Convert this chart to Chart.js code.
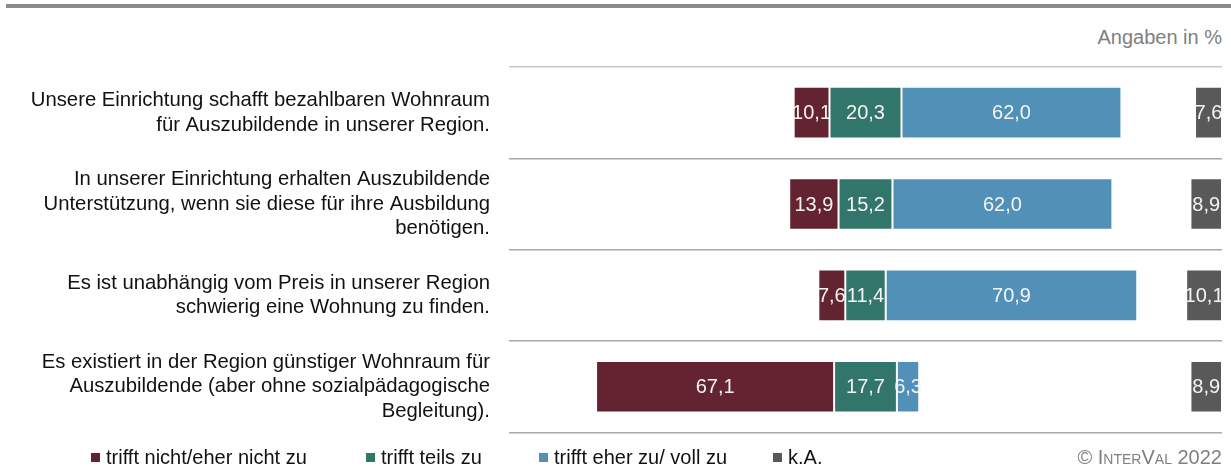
<!DOCTYPE html>
<html lang="de">
<head>
<meta charset="utf-8">
<script src="https://cdn.jsdelivr.net/npm/chart.js@4.4.1/dist/chart.umd.min.js"></script>
<style>
	html, body { margin: 0; padding: 0; background: #fff; }
	#wrap { position: relative; width: 1231px; height: 476px; overflow: hidden; font-family: "Liberation Sans", Arial, sans-serif; }
	#chart { position: absolute; left: 0; top: 0; }
	#topline { position: absolute; left: 6px; right: 0; top: 4px; height: 4px; background: #8c8c8c; }
	#unit { position: absolute; right: 9px; top: 25px; font-size: 20px; line-height: 24px; color: #7f7f7f; }
	#copy { position: absolute; right: 9px; top: 445px; font-size: 20px; line-height: 24px; color: #7f7f7f; font-variant: small-caps; }
	#legend { position: absolute; left: 91px; top: 445px; display: flex; font-size: 20px; line-height: 24px; color: #111; }
	#legend .item { display: flex; align-items: center; }
	#legend .box { width: 9px; height: 9px; margin-right: 6px; }
	#legend .item:nth-child(1) { width: 275px; }
	#legend .item:nth-child(2) { width: 173px; }
	#legend .item:nth-child(3) { width: 234px; }
</style>
</head>
<body>
<div id="wrap">
	<div id="topline"></div>
	<div id="unit">Angaben in %</div>
	<canvas id="chart" width="1231" height="476"></canvas>
	<div id="legend"></div>
	<div id="copy">© InterVal 2022</div>
</div>
<script>
const categories = [
	['Unsere Einrichtung schafft bezahlbaren Wohnraum', 'für Auszubildende in unserer Region.'],
	['In unserer Einrichtung erhalten Auszubildende', 'Unterstützung, wenn sie diese für ihre Ausbildung', 'benötigen.'],
	['Es ist unabhängig vom Preis in unserer Region', 'schwierig eine Wohnung zu finden.'],
	['Es existiert in der Region günstiger Wohnraum für', 'Auszubildende (aber ohne sozialpädagogische', 'Begleitung).'],
];
const trifftNicht = [10.1, 13.9, 7.6, 67.1];
const trifftTeils = [20.3, 15.2, 11.4, 17.7];
const trifftZu = [62.0, 62.0, 70.9, 6.3];
const keineAngabe = [7.6, 8.9, 10.1, 8.9];
const seriesNames = ['trifft nicht/eher nicht zu', 'trifft teils zu', 'trifft eher zu/ voll zu', 'k.A.'];
const colors = ['#632330', '#31756b', '#5291b7', '#595959'];

// diverging layout: "teils zu" centred on 0, k.A. pinned to the right edge
const AXIS_MAX = 100.5;
const rangeNicht = trifftNicht.map((v, i) => [-trifftTeils[i] / 2 - v, -trifftTeils[i] / 2]);
const rangeTeils = trifftTeils.map(v => [-v / 2, v / 2]);
const rangeZu = trifftZu.map((v, i) => [trifftTeils[i] / 2, trifftTeils[i] / 2 + v]);
const rangeKA = keineAngabe.map(v => [AXIS_MAX - v, AXIS_MAX]);

const fmt = v => v.toFixed(1).replace('.', ',');

const valueLabels = {
	id: 'valueLabels',
	afterDatasetsDraw(chart) {
		const ctx = chart.ctx;
		ctx.save();
		ctx.font = '20px "Liberation Sans", Arial, sans-serif';
		ctx.fillStyle = '#f4f4f4';
		ctx.textAlign = 'center';
		ctx.textBaseline = 'middle';
		chart.data.datasets.forEach((ds, di) => {
			chart.getDatasetMeta(di).data.forEach((bar, i) => {
				const p = bar.getCenterPoint();
				ctx.fillText(fmt(ds.values[i]), p.x, p.y + 1);
			});
		});
		ctx.restore();
	},
};

const makeSet = (label, data, values, color) => ({
	label,
	data,
	values,
	backgroundColor: color,
	borderColor: 'rgba(255,255,255,0.85)',
	borderWidth: 1,
	borderSkipped: false,
	grouped: false,
	barPercentage: 0.565,
	categoryPercentage: 1,
});

const chart = new Chart(document.getElementById('chart'), {
	type: 'bar',
	data: {
		labels: categories,
		datasets: [
			makeSet(seriesNames[0], rangeNicht, trifftNicht, colors[0]),
			makeSet(seriesNames[1], rangeTeils, trifftTeils, colors[1]),
			makeSet(seriesNames[2], rangeZu, trifftZu, colors[2]),
			makeSet(seriesNames[3], rangeKA, keineAngabe, colors[3]),
		],
	},
	options: {
		indexAxis: 'y',
		responsive: false,
		animation: false,
		layout: { padding: { top: 67, right: 9, bottom: 38, left: 0 } },
		plugins: {
			legend: { display: false },
			tooltip: { enabled: false },
		},
		scales: {
			x: {
				display: false,
				min: -AXIS_MAX,
				max: AXIS_MAX,
			},
			y: {
				afterFit(scale) {
					scale.width = 509;
				},
				border: { display: false },
				grid: {
					offset: true,
					drawTicks: false,
					lineWidth: 1.5,
					color: c => (c.index === 0 ? '#c8c8c8' : '#a8a8a8'),
				},
				ticks: {
					padding: 19,
					color: '#111',
					font: { family: '"Liberation Sans", Arial, sans-serif', size: 20.3, lineHeight: 1.21 },
				},
			},
		},
	},
	plugins: [valueLabels],
});

// html legend built from the datasets
const legend = document.getElementById('legend');
chart.data.datasets.forEach(ds => {
	const item = document.createElement('div');
	item.className = 'item';
	const box = document.createElement('span');
	box.className = 'box';
	box.style.background = ds.backgroundColor;
	const txt = document.createElement('span');
	txt.textContent = ds.label;
	item.appendChild(box);
	item.appendChild(txt);
	legend.appendChild(item);
});
</script>
</body>
</html>
